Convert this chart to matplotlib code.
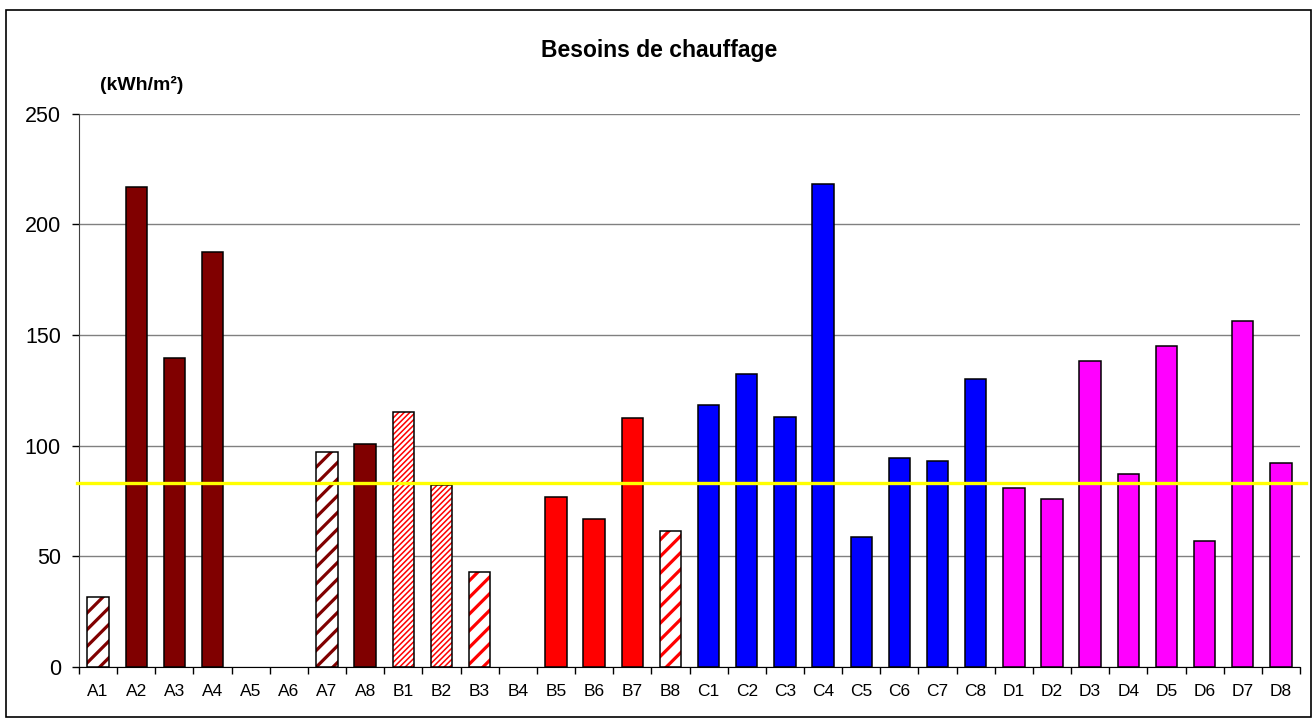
import numpy as np
import matplotlib
matplotlib.use("Agg")
from matplotlib import pyplot as plt
from matplotlib.patches import Rectangle

plt.rcParams["font.family"] = ["Liberation Sans", "DejaVu Sans"]

# data
categories = ["A1", "A2", "A3", "A4", "A5", "A6", "A7", "A8",
              "B1", "B2", "B3", "B4", "B5", "B6", "B7", "B8",
              "C1", "C2", "C3", "C4", "C5", "C6", "C7", "C8",
              "D1", "D2", "D3", "D4", "D5", "D6", "D7", "D8"]
values = [31.5, 217, 139.5, 187.5, np.nan, np.nan, 97, 100.5,
          115, 82, 43, np.nan, 77, 67, 112.5, 61.5,
          118.5, 132.5, 113, 218, 58.5, 94.5, 93, 130,
          81, 76, 138, 87, 145, 57, 156.5, 92]
group_colors = {"A": "#800000", "B": "#FF0000", "C": "#0000FF", "D": "#FF00FF"}
# hatched bars: category -> (hatch, hatch linewidth)
hatched = {"A1": ("//", 2.3), "A7": ("//", 2.3),
           "B1": ("//////", 1.1), "B2": ("//////", 1.1),
           "B3": ("//", 2.3), "B8": ("//", 2.3)}
reference = 83
yticks = [0, 50, 100, 150, 200, 250]

fig = plt.figure(figsize=(13.13, 7.2), dpi=100)
ax = fig.add_axes([79 / 1313, 53 / 720, 1221 / 1313, 553.5 / 720])

x = np.arange(len(categories))
w = 0.56
for xi, cat, val in zip(x, categories, values):
    if np.isnan(val):
        continue
    col = group_colors[cat[0]]
    if cat in hatched:
        hatch, hlw = hatched[cat]
        with plt.rc_context({"hatch.linewidth": hlw}):
            b = ax.bar(xi, val, w, facecolor="white", edgecolor=col, hatch=hatch,
                       linewidth=0, zorder=3)
            for p in b:
                if hasattr(p, "set_hatch_linewidth"):
                    p.set_hatch_linewidth(hlw)
        ax.bar(xi, val, w, fill=False, edgecolor="black", linewidth=1.1, zorder=4)
    else:
        ax.bar(xi, val, w, color=col, edgecolor="black", linewidth=1.1, zorder=3)

ax.axhline(reference, xmin=-0.002, xmax=1.005, color="#FFFF00", linewidth=2.4,
           zorder=5, clip_on=False)

ax.set_xlim(-0.5, len(categories) - 0.5)
ax.set_ylim(0, 250)
ax.set_yticks(yticks)
ax.yaxis.grid(True, color="#808080", linewidth=1.0, zorder=0)
ax.set_axisbelow(True)

ax.set_xticks(x)
ax.set_xticklabels(categories, fontsize=12.5)
ax.set_xticks(np.arange(-0.5, len(categories)), minor=True)
ax.tick_params(axis="x", which="major", length=0, pad=12)
ax.tick_params(axis="x", which="minor", length=5, width=1, direction="out")
ax.tick_params(axis="y", length=5, width=1, labelsize=15.5, pad=8)

for s in ["top", "right"]:
    ax.spines[s].set_visible(False)
ax.spines["left"].set_color("#404040")
ax.spines["bottom"].set_color("black")

fig.text(0.502, 1 - 50 / 720, "Besoins de chauffage", ha="center", va="center",
         fontsize=16.5, fontweight="bold")
fig.text(100 / 1313, 1 - 85 / 720, "(kWh/m\u00b2)", ha="left", va="center",
         fontsize=14, fontweight="bold")

fig.patches.append(Rectangle((6 / 1313, 3 / 720), 1305 / 1313, 707 / 720,
                             transform=fig.transFigure, fill=False,
                             edgecolor="black", linewidth=1.2))

fig.savefig("out.png", dpi=100)
